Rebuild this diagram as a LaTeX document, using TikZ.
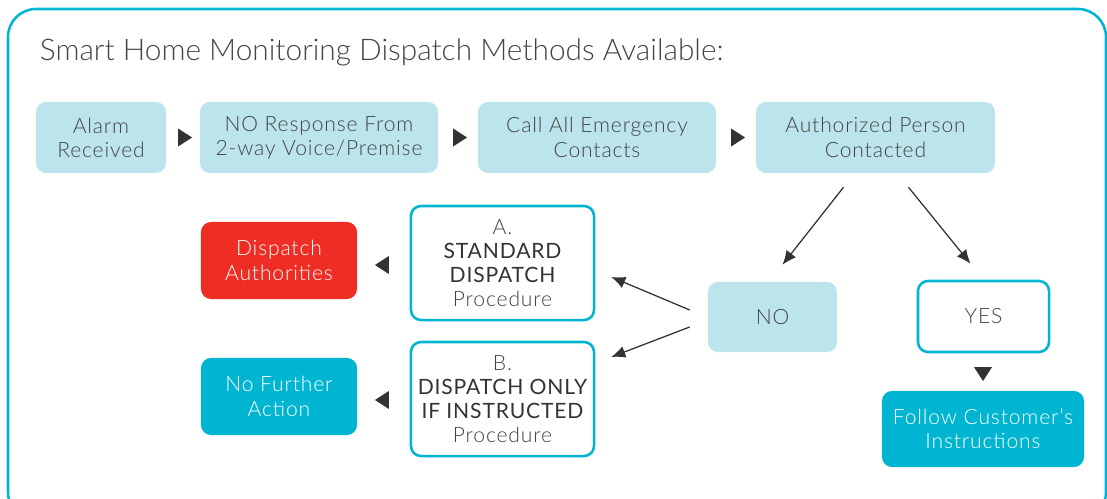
\documentclass[tikz,border=0pt]{standalone}
\usepackage{fontspec}
\setmainfont{Lato Light}[BoldFont=Lato]
\usepackage{tikz}
\usetikzlibrary{positioning}
\usetikzlibrary{shapes.geometric}
\usetikzlibrary{calc}
\usetikzlibrary{arrows.meta}
\definecolor{skyfill}{HTML}{BCE4EC}
\definecolor{cyanline}{HTML}{00B5D1}
\definecolor{alertred}{HTML}{EE2E24}
\definecolor{inkgray}{HTML}{444444}
\definecolor{markgray}{HTML}{333333}
\newfontfamily\boxfont{Lato Light}[LetterSpace=4, BoldFont=Lato]
\tikzset{stepbox/.style={
		rectangle,
		rounded corners=0.25cm,
		fill=skyfill,
		text=inkgray,
		inner sep = 0pt,
		minimum height=1.775cm,
		align=center,
		font=\boxfont\fontsize{15}{17.2}\selectfont,
	}
}
\tikzset{procbox/.style={
		stepbox,
		fill=white,
		draw=cyanline,
		line width=1.8pt,
		minimum width=4.575cm,
		minimum height=2.85cm,
	}
}
\tikzset{endbox/.style={
		stepbox,
		fill=cyanline,
		text=white,
		minimum width=3.9cm,
		minimum height=1.925cm,
	}
}
\tikzset{pointer/.style={
		isosceles triangle,
		isosceles triangle stretches,
		fill=markgray,
		inner sep = 0pt,
		minimum height=0.35cm,
		minimum width=0.45cm,
	}
}
\tikzset{edge/.style={
		-{Latex[length=3.5mm, width=3mm]},
		line width=0.9pt,
		markgray,
	}
}

\begin{document}
\begin{tikzpicture}[x=0.025cm, y=-0.025cm]

\useasboundingbox (0,0) rectangle (1107,499);
% outer frame
\draw[cyanline, line width=1.8pt, rounded corners=0.7cm] (8,9) rectangle (1106,520);

\node[anchor=west, text=inkgray, font=\fontsize{21.2}{25}\selectfont] (title) at (35,52) {Smart Home Monitoring Dispatch Methods Available:};

% top row
\node[stepbox, minimum width=3.25cm] (alarm) at (101,137.5) {Alarm\\Received};
\node[stepbox, minimum width=5.95cm] (noresp) at (319,137.5) {NO Response From\\2-way Voice/Premise};
\node[stepbox, minimum width=5.95cm] (callall) at (597,137.5) {Call All Emergency\\Contacts};
\node[stepbox, minimum width=5.975cm] (authp) at (875.5,137.5) {Authorized Person\\Contacted};

\node[pointer] (p1) at ($(alarm.east)!0.5!(noresp.west)$) {};
\node[pointer] (p2) at ($(noresp.east)!0.5!(callall.west)$) {};
\node[pointer] (p3) at ($(callall.east)!0.5!(authp.west)$) {};

% answer
\node[stepbox, minimum width=3.225cm, minimum height=1.75cm] (no) at (772.5,317) {NO};
\node[procbox, minimum width=3.275cm, minimum height=1.775cm] (yes) at (983.5,316.5) {YES};
\node[endbox, minimum width=5.05cm, minimum height=1.9cm] (follow) at (983,429) {Follow Customer’s\\Instructions};
\node[pointer, shape border rotate=-90] (p4) at (983,372) {};

% procedures
\node[procbox] (procA) at (502.5,263) {A.\\{\bfseries\color{markgray}STANDARD}\\{\bfseries\color{markgray}DISPATCH}\\Procedure};
\node[procbox] (procB) at (502.5,399) {B.\\{\bfseries\color{markgray}DISPATCH ONLY}\\{\bfseries\color{markgray}IF INSTRUCTED}\\Procedure};
\node[endbox, fill=alertred] (dispauth) at (279,260.5) {Dispatch\\Authorities};
\node[endbox] (nofurther) at (279,396.5) {No Further\\Action};
\node[pointer, shape border rotate=180] (p5) at (384,265) {};
\node[pointer, shape border rotate=180] (p6) at (384,400) {};

\draw[edge] ($(authp.south)+(-32,14)$) -- ($(no.north)+(10,-17)$);
\draw[edge] ($(authp.south)+(33,14)$) -- ($(yes.north)+(-13,-16)$);
\draw[edge] ($(no.west)+(-18,-7)$) -- ($(procA.east)+(16,14)$);
\draw[edge] ($(no.west)+(-18,10)$) -- ($(procB.east)+(16,-42)$);

\end{tikzpicture}
\end{document}
